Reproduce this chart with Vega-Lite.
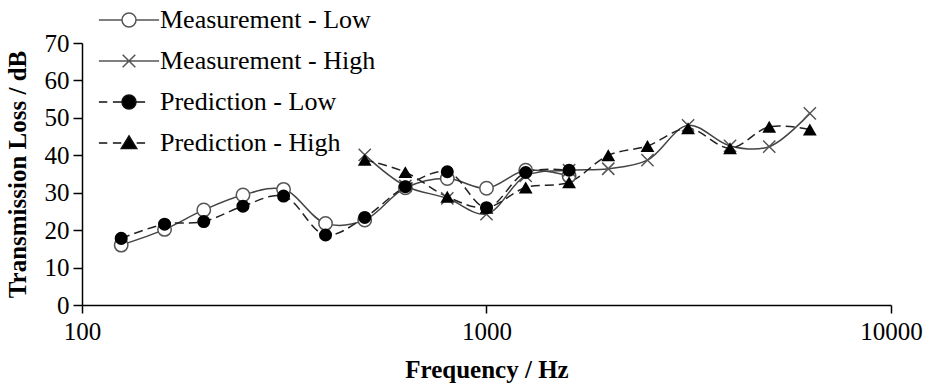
{
  "$schema": "https://vega.github.io/schema/vega-lite/v6.json",
  "width": 809,
  "height": 262,
  "autosize": {"type": "none"},
  "padding": {"left": 82, "top": 43, "right": 38, "bottom": 78},
  "config": {
    "font": "Liberation Serif",
    "view": {"stroke": null},
    "axis": {"grid": false, "domainColor": "#000", "domainWidth": 1.5, "tickColor": "#000", "tickWidth": 1.5, "labelColor": "#000", "titleColor": "#000", "labelFont": "Liberation Serif", "titleFont": "Liberation Serif", "labelFontSize": 25, "titleFontSize": 25, "titleFontWeight": "bold"}
  },
  "data": {
    "values": [
      {"series": "Measurement - Low", "f": 125, "tl": 16.0},
      {"series": "Measurement - Low", "f": 160, "tl": 20.2},
      {"series": "Measurement - Low", "f": 200, "tl": 25.4},
      {"series": "Measurement - Low", "f": 250, "tl": 29.4},
      {"series": "Measurement - Low", "f": 315, "tl": 30.9},
      {"series": "Measurement - Low", "f": 400, "tl": 21.8},
      {"series": "Measurement - Low", "f": 500, "tl": 22.7},
      {"series": "Measurement - Low", "f": 630, "tl": 31.3},
      {"series": "Measurement - Low", "f": 800, "tl": 33.8},
      {"series": "Measurement - Low", "f": 1000, "tl": 31.2},
      {"series": "Measurement - Low", "f": 1250, "tl": 36.0},
      {"series": "Measurement - Low", "f": 1600, "tl": 34.5},
      {"series": "Measurement - High", "f": 500, "tl": 40.1},
      {"series": "Measurement - High", "f": 630, "tl": 31.8},
      {"series": "Measurement - High", "f": 800, "tl": 28.5},
      {"series": "Measurement - High", "f": 1000, "tl": 24.3},
      {"series": "Measurement - High", "f": 1250, "tl": 34.5},
      {"series": "Measurement - High", "f": 1600, "tl": 36.0},
      {"series": "Measurement - High", "f": 2000, "tl": 36.4},
      {"series": "Measurement - High", "f": 2500, "tl": 38.7},
      {"series": "Measurement - High", "f": 3150, "tl": 48.0},
      {"series": "Measurement - High", "f": 4000, "tl": 42.5},
      {"series": "Measurement - High", "f": 5000, "tl": 42.3},
      {"series": "Measurement - High", "f": 6300, "tl": 51.2},
      {"series": "Prediction - Low", "f": 125, "tl": 17.8},
      {"series": "Prediction - Low", "f": 160, "tl": 21.6},
      {"series": "Prediction - Low", "f": 200, "tl": 22.3},
      {"series": "Prediction - Low", "f": 250, "tl": 26.4},
      {"series": "Prediction - Low", "f": 315, "tl": 29.1},
      {"series": "Prediction - Low", "f": 400, "tl": 18.7},
      {"series": "Prediction - Low", "f": 500, "tl": 23.4},
      {"series": "Prediction - Low", "f": 630, "tl": 31.6},
      {"series": "Prediction - Low", "f": 800, "tl": 35.6},
      {"series": "Prediction - Low", "f": 1000, "tl": 26.0},
      {"series": "Prediction - Low", "f": 1250, "tl": 35.4},
      {"series": "Prediction - Low", "f": 1600, "tl": 36.0},
      {"series": "Prediction - High", "f": 500, "tl": 38.8},
      {"series": "Prediction - High", "f": 630, "tl": 35.5},
      {"series": "Prediction - High", "f": 800, "tl": 28.9},
      {"series": "Prediction - High", "f": 1000, "tl": 26.0},
      {"series": "Prediction - High", "f": 1250, "tl": 31.4},
      {"series": "Prediction - High", "f": 1600, "tl": 32.8},
      {"series": "Prediction - High", "f": 2000, "tl": 40.0},
      {"series": "Prediction - High", "f": 2500, "tl": 42.5},
      {"series": "Prediction - High", "f": 3150, "tl": 47.2},
      {"series": "Prediction - High", "f": 4000, "tl": 41.9},
      {"series": "Prediction - High", "f": 5000, "tl": 47.6},
      {"series": "Prediction - High", "f": 6300, "tl": 46.9}
    ]
  },
  "encoding": {
    "x": {"field": "f", "type": "quantitative", "scale": {"type": "log", "domain": [100, 10000], "nice": false},
          "axis": {"title": "Frequency / Hz", "values": [100, 1000, 10000], "format": "d", "tickSize": 8, "labelPadding": 6, "titlePadding": 13, "labelFlush": false, "labelOverlap": false}},
    "y": {"field": "tl", "type": "quantitative", "scale": {"domain": [0, 70], "nice": false},
          "axis": {"title": "Transmission Loss / dB", "values": [0, 10, 20, 30, 40, 50, 60, 70], "tickSize": 9, "labelPadding": 4, "titlePadding": 14}}
  },
  "layer": [
    {
      "transform": [{"filter": "indexof(datum.series, 'Measurement') == 0"}],
      "mark": {"type": "line", "interpolate": "catmull-rom", "color": "#444", "strokeWidth": 1.5},
      "encoding": {"detail": {"field": "series"}}
    },
    {
      "transform": [{"filter": "indexof(datum.series, 'Prediction') == 0"}],
      "mark": {"type": "line", "interpolate": "catmull-rom", "color": "#222", "strokeWidth": 1.5, "strokeDash": [9, 5]},
      "encoding": {"detail": {"field": "series"}}
    },
    {
      "transform": [{"filter": "datum.series == 'Measurement - Low'"}],
      "mark": {"type": "point", "shape": "circle", "size": 180, "fill": "#fff", "stroke": "#555", "strokeWidth": 1.5, "opacity": 1}
    },
    {
      "transform": [{"filter": "datum.series == 'Measurement - High'"}],
      "mark": {"type": "point", "shape": "M-1,-1L1,1M-1,1L1,-1", "size": 150, "fill": null, "stroke": "#555", "strokeWidth": 1.5, "opacity": 1}
    },
    {
      "transform": [{"filter": "datum.series == 'Prediction - Low'"}],
      "mark": {"type": "point", "shape": "circle", "size": 170, "filled": true, "color": "#000", "opacity": 1}
    },
    {
      "transform": [{"filter": "datum.series == 'Prediction - High'"}],
      "mark": {"type": "point", "shape": "triangle-up", "size": 190, "filled": true, "color": "#000", "opacity": 1}
    },
    {
      "mark": {"type": "point", "opacity": 0, "strokeWidth": 1.5},
      "encoding": {
        "shape": {"field": "series", "type": "nominal",
          "scale": {"domain": ["Measurement - Low", "Measurement - High", "Prediction - Low", "Prediction - High"],
                    "range": ["M-4.3,0H-1M1,0H4.3M1,0A1,1,0,1,1,-1,0A1,1,0,1,1,1,0Z",
                              "M-4.3,0H4.3M-0.9,-0.9L0.9,0.9M-0.9,0.9L0.9,-0.9",
                              "M-4.3,0H-3.1M-2.3,0H-1M1,0H2.3M1,0A1,1,0,1,1,-1,0A1,1,0,1,1,1,0Z",
                              "M-4.3,0H-3.1M-2.3,0H-1.1M1.1,0H2.3M0,-1L1.1,0.8L-1.1,0.8Z"]},
          "legend": {"title": null, "orient": "none", "legendX": 34, "legendY": -36, "padding": 0, "symbolSize": 196, "symbolStrokeWidth": 1.5, "symbolOpacity": 1, "labelFont": "Liberation Serif", "labelFontSize": 26, "labelColor": "#000", "labelOffset": 18, "rowPadding": 15, "labelLimit": 400}},
        "fill": {"field": "series", "type": "nominal",
          "scale": {"domain": ["Measurement - Low", "Measurement - High", "Prediction - Low", "Prediction - High"],
                    "range": ["#ffffff", "transparent", "#000000", "#000000"]}},
        "stroke": {"field": "series", "type": "nominal",
          "scale": {"domain": ["Measurement - Low", "Measurement - High", "Prediction - Low", "Prediction - High"],
                    "range": ["#555555", "#555555", "#111111", "#111111"]}}
      }
    }
  ]
}
